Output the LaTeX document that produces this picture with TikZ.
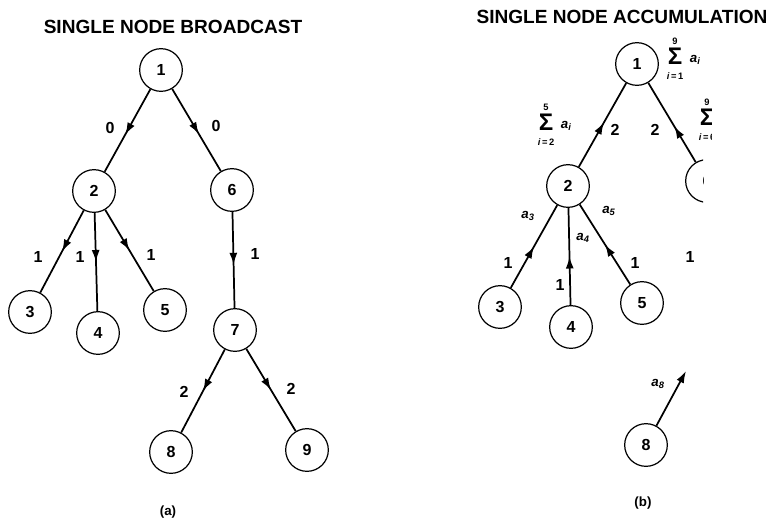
\documentclass[tikz,border=0pt]{standalone}
\usepackage{fontspec}
\setmainfont{Liberation Sans}
\usetikzlibrary{arrows.meta,decorations.markings}

\newcommand{\av}[1]{\textbf{\textit{a}}\textsubscript{\textbf{\textit{#1}}}}
\newcommand{\sumof}[2]{\begin{tabular}{@{}c@{}}{\fontsize{7}{7}\selectfont\bfseries #2}\\[-1pt]{\fontsize{18}{14}\selectfont\bfseries Σ}\\[-1pt]{\fontsize{7}{7}\selectfont\bfseries\itshape i\upshape\,=\,#1}\end{tabular}}

\tikzset{every picture/.style={line width=1.3pt}}
\tikzset{
  vertex/.style={draw,circle,minimum size=32pt,inner sep=0pt,line width=0.9pt,font=\fontsize{12}{14}\selectfont\bfseries},
  elabel/.style={inner sep=0.75pt,font=\fontsize{12}{14}\selectfont\bfseries},
  alabel/.style={inner sep=0.75pt,font=\fontsize{10}{12}\selectfont},
  title/.style={inner sep=0.75pt,font=\fontsize{14.3}{16}\selectfont\bfseries},
  midarrow/.style={postaction={decorate},decoration={markings,mark=at position #1 with {\arrow{Latex[length=9pt,width=6pt]}}}},
  midarrow/.default=0.55
}

\begin{document}
\begin{tikzpicture}[x=0.75pt,y=0.75pt,yscale=-1,xscale=1]
\useasboundingbox (0,0) rectangle (779,522);

% Titles
\node [title] (ttla) at (173,27) {SINGLE NODE BROADCAST};
\node [title] (ttlb) at (622,17) {SINGLE NODE ACCUMULATION};

%%% (a) broadcast tree
\node [vertex] (a1) at (161,70) {1};
\node [vertex] (a2) at (94,191) {2};
\node [vertex] (a6) at (232,190) {6};
\node [vertex] (a3) at (30,312) {3};
\node [vertex] (a4) at (98,333) {4};
\node [vertex] (a5) at (165,310) {5};
\node [vertex] (a7) at (235,330) {7};
\node [vertex] (a8) at (171,452) {8};
\node [vertex] (a9) at (307,450) {9};

\draw [midarrow] (a1) -- (a2);
\draw [midarrow] (a1) -- (a6);
\draw [midarrow=0.5] (a2) -- (a3);
\draw [midarrow=0.5] (a2) -- (a4);
\draw [midarrow=0.5] (a2) -- (a5);
\draw [midarrow] (a6) -- (a7);
\draw [midarrow=0.5] (a7) -- (a8);
\draw [midarrow=0.5] (a7) -- (a9);

% Edge labels
\node [elabel] (la12) at (110,128) {0};
\node [elabel] (la16) at (216,126) {0};
\node [elabel] (la23) at (38,257) {1};
\node [elabel] (la24) at (80,257) {1};
\node [elabel] (la25) at (151,255) {1};
\node [elabel] (la67) at (255,254) {1};
\node [elabel] (la78) at (184,392) {2};
\node [elabel] (la79) at (291,389) {2};

\node [alabel] (capa) at (168,512) {\bfseries (a)};

%%% (b) accumulation tree
\node [vertex] (b1) at (637,64) {1};
\node [vertex] (b2) at (568,186) {2};
\node [vertex] (b3) at (500,307) {3};
\node [vertex] (b4) at (571,327) {4};
\node [vertex] (b5) at (642,303) {5};
\node [vertex] (b8) at (646,445) {8};
\coordinate (c7) at (686,371);

% node 6 and its sum, cut off at the right
\begin{scope}
\clip (600,140) rectangle (703,240);
\node [vertex] (b6) at (707,181) {6};
\end{scope}
\begin{scope}
\clip (600,90) rectangle (711,150);
\node [alabel,anchor=west] (sum69) at (697,120) {\sumof{6}{9}\hspace{5pt}\av{i}};
\end{scope}

\draw [midarrow=0.53] (b2) -- (b1);
\draw [midarrow=0.45] (b6) -- (b1);
\draw [midarrow=0.5] (b3) -- (b2);
\draw [midarrow=0.5] (b4) -- (b2);
\draw [midarrow=0.5] (b5) -- (b2);
\draw [-{Latex[length=9pt,width=6pt]}] (b8) -- (c7);

% Edge labels
\node [alabel,anchor=west] (sum19) at (665,59) {\sumof{1}{9}\hspace{5pt}\av{i}};
\node [alabel,anchor=west] (sum25) at (536,125) {\sumof{2}{5}\hspace{5pt}\av{i}};
\node [elabel] (lb21) at (615,130) {2};
\node [elabel] (lb61) at (655,130) {2};
\node [alabel] (lb3) at (528,216) {\av{3}};
\node [alabel] (lb4) at (583,238) {\av{4}};
\node [alabel] (lb5) at (609,211) {\av{5}};
\node [alabel] (lb8) at (658,384) {\av{8}};
\node [elabel] (lb32) at (508,263) {1};
\node [elabel] (lb42) at (560,285) {1};
\node [elabel] (lb52) at (635,263) {1};
\node [elabel] (lb67) at (690,257) {1};

\node [alabel] (capb) at (643,503) {\bfseries (b)};

\end{tikzpicture}
\end{document}
